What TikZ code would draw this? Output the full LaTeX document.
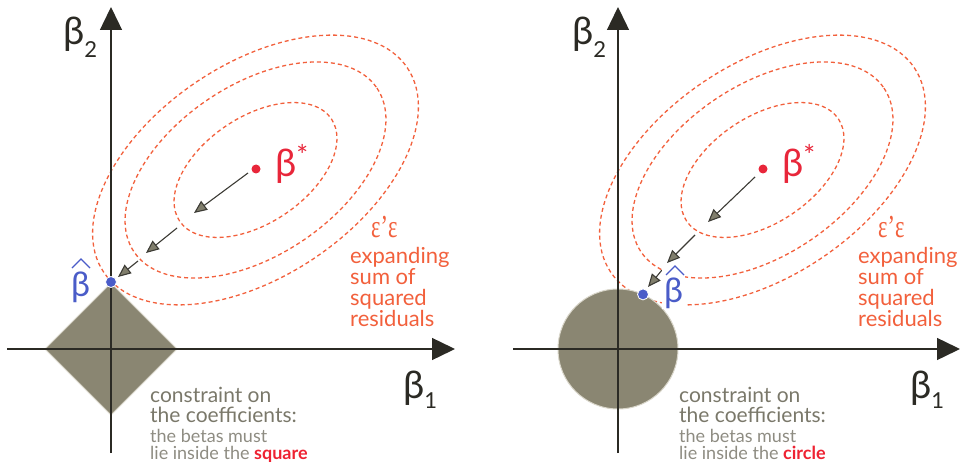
\documentclass[tikz,border=0pt]{standalone}
\usepackage{fontspec}
\setmainfont{Lato}
\newfontfamily\epsfont{Liberation Serif}
\usetikzlibrary{arrows.meta}
\definecolor{axiscol}{HTML}{2B2A24}
\definecolor{ellcol}{HTML}{F2603C}
\definecolor{starred}{HTML}{E8263A}
\definecolor{hatblue}{HTML}{4A5CC8}
\definecolor{regfill}{HTML}{8A8672}
\definecolor{regedge}{HTML}{D9D6CA}
\definecolor{arrline}{HTML}{3C3B35}
\definecolor{arrfill}{HTML}{807E6C}
\definecolor{cgray}{HTML}{7A786A}
\definecolor{cgraylight}{HTML}{8E8C82}
\definecolor{boldred}{HTML}{EE2232}
\begin{document}
\begin{tikzpicture}[x=1pt,y=-1pt,
  axis/.style={draw=axiscol, line width=1.4pt, -{Triangle[length=23pt,width=22pt]}},
  contour/.style={draw=ellcol, line width=1.3pt, dash pattern=on 4pt off 3pt},
  shrink/.style={draw=arrline, line width=1.1pt, -{Triangle[length=13pt,width=11pt,fill=arrfill]}},
  region/.style={fill=regfill, draw=regedge, line width=1pt},
  bdot/.style={circle, fill=hatblue, draw=white, line width=0.8pt, inner sep=0pt, minimum size=11pt},
  sdot/.style={circle, fill=starred, inner sep=0pt, minimum size=9pt},
  axlabel/.style={anchor=base west, inner sep=0pt, text=axiscol},
  starlabel/.style={anchor=base west, inner sep=0pt, text=starred},
  hatlabel/.style={anchor=base west, inner sep=0pt, text=hatblue, font=\fontsize{34}{34}\selectfont},
  hatline/.style={draw=hatblue, line width=1.1pt},
  epslabel/.style={anchor=base west, inner sep=0pt, text=ellcol},
  ssrtext/.style={anchor=base west, inner sep=0pt, text=ellcol, font=\fontsize{22}{22}\selectfont},
  contitle/.style={anchor=base west, inner sep=0pt, text=cgray, font=\fontsize{21}{21}\selectfont},
  consub/.style={anchor=base west, inner sep=0pt, text=cgraylight, font=\fontsize{18}{18}\selectfont}
]
\useasboundingbox (0,0) rectangle (960,465);

% ---------------- left panel ----------------
\coordinate (cL) at (255.5,170);
\draw[contour, rotate around={34:(cL)}] (cL) ellipse [x radius=91.5, y radius=53];
\draw[contour, rotate around={34:(cL)}] (cL) ellipse [x radius=146.5, y radius=85];
\draw[contour, rotate around={34:(cL)}] (cL) ellipse [x radius=183, y radius=106];

\draw[region] (111,283) -- (177,349) -- (111,415) -- (45,349) -- cycle;

\coordinate (yL0) at (111,453);
\coordinate (yL1) at (111,7);
\coordinate (xL0) at (7,349);
\coordinate (xL1) at (455,349);
\draw[axis] (yL0) -- (yL1);
\draw[axis] (xL0) -- (xL1);

\coordinate (aL1s) at (248,173); \coordinate (aL1e) at (194,213);
\coordinate (aL2s) at (177,228); \coordinate (aL2e) at (146,253);
\coordinate (aL3s) at (138,261); \coordinate (aL3e) at (118,277);
\draw[shrink] (aL1s) -- (aL1e);
\draw[shrink] (aL2s) -- (aL2e);
\draw[shrink] (aL3s) -- (aL3e);

\node[sdot] (bsL) at (256,169) {};
\node[bdot] (bhL) at (111,282) {};

\node[axlabel] (b2L) at (63,45) {{\fontsize{38}{38}\selectfont β}\raisebox{-13pt}{\fontsize{22}{22}\selectfont 2}};
\node[axlabel] (b1L) at (403,398) {{\fontsize{38}{38}\selectfont β}\raisebox{-10pt}{\fontsize{22}{22}\selectfont 1}};
\node[starlabel] (lbsL) at (275,176) {{\fontsize{38}{38}\selectfont β}\raisebox{10pt}{\fontsize{28}{28}\selectfont *}};
\node[hatlabel] (lbhL) at (71,296) {β};
\draw[hatline] ([xshift=1pt,yshift=28pt]lbhL.base west) -- ([xshift=10pt,yshift=37pt]lbhL.base west) -- ([xshift=19pt,yshift=28pt]lbhL.base west);

\node[epslabel] (epsL) at (371,237) {\scalebox{0.7}[1]{\epsfont\fontsize{32}{32}\selectfont ε’ε}};
\node[ssrtext] (s1L) at (350,263) {expanding};
\node[ssrtext] (s2L) at (350,284) {sum of};
\node[ssrtext] (s3L) at (350,305) {squared};
\node[ssrtext] (s4L) at (350,326) {residuals};

\node[contitle] (c1L) at (150,402) {constraint on};
\node[contitle] (c2L) at (150,422) {the coefficients:};
\node[consub] (c3L) at (150,442) {the betas must};
\node[consub] (c4L) at (150,459) {lie inside the \textcolor{boldred}{\bfseries square}};

% ---------------- right panel ----------------
\coordinate (cR) at (762.5,170);
\draw[contour, rotate around={34:(cR)}] (cR) ellipse [x radius=91.5, y radius=53];
\draw[contour, rotate around={34:(cR)}] (cR) ellipse [x radius=146.5, y radius=85];
\draw[contour, rotate around={34:(cR)}] (cR) ellipse [x radius=183, y radius=106];

\node[region, circle, minimum size=120pt, inner sep=0pt] (disk) at (618,349) {};

\coordinate (yR0) at (618,453);
\coordinate (yR1) at (618,7);
\coordinate (xR0) at (513,349);
\coordinate (xR1) at (960,349);
\draw[axis] (yR0) -- (yR1);
\draw[axis] (xR0) -- (xR1);

\coordinate (aR1s) at (755,177); \coordinate (aR1e) at (708,222);
\coordinate (aR2s) at (695,235); \coordinate (aR2e) at (667,263);
\coordinate (aR3s) at (662,270); \coordinate (aR3e) at (648,287);
\draw[shrink] (aR1s) -- (aR1e);
\draw[shrink] (aR2s) -- (aR2e);
\draw[shrink] (aR3s) -- (aR3e);

\node[sdot] (bsR) at (763,169) {};
\node[bdot] (bhR) at (643,294.4) {};

\node[axlabel] (b2R) at (572,45) {{\fontsize{38}{38}\selectfont β}\raisebox{-13pt}{\fontsize{22}{22}\selectfont 2}};
\node[axlabel] (b1R) at (910,398) {{\fontsize{38}{38}\selectfont β}\raisebox{-10pt}{\fontsize{22}{22}\selectfont 1}};
\node[starlabel] (lbsR) at (782,176) {{\fontsize{38}{38}\selectfont β}\raisebox{10pt}{\fontsize{28}{28}\selectfont *}};
\node[hatlabel, fill=white, inner xsep=2pt, inner ysep=1pt, text height=34pt] (lbhR) at (662,302) {β};
\draw[hatline] ([xshift=4pt,yshift=27pt]lbhR.base west) -- ([xshift=13pt,yshift=36pt]lbhR.base west) -- ([xshift=22pt,yshift=27pt]lbhR.base west);

\node[epslabel] (epsR) at (878,237) {\scalebox{0.7}[1]{\epsfont\fontsize{32}{32}\selectfont ε’ε}};
\node[ssrtext] (s1R) at (858,263) {expanding};
\node[ssrtext] (s2R) at (858,284) {sum of};
\node[ssrtext] (s3R) at (858,305) {squared};
\node[ssrtext] (s4R) at (858,326) {residuals};

\node[contitle] (c1R) at (679,402) {constraint on};
\node[contitle] (c2R) at (679,422) {the coefficients:};
\node[consub] (c3R) at (679,442) {the betas must};
\node[consub] (c4R) at (679,459) {lie inside the \textcolor{boldred}{\bfseries circle}};
\end{tikzpicture}
\end{document}
